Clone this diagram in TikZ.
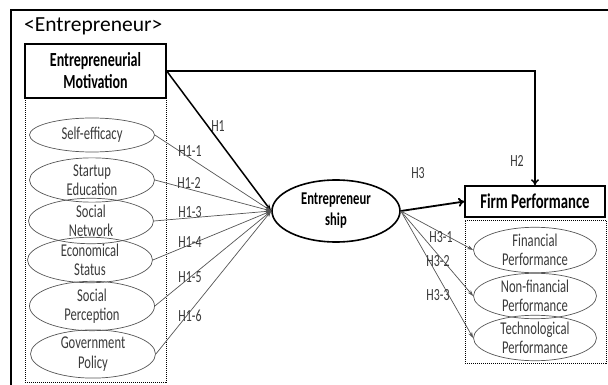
\documentclass[tikz,border=0pt]{standalone}
\usepackage{fontspec}
\setmainfont{Carlito}[FakeStretch=0.7]
\newfontfamily\plainf{Carlito}
\usetikzlibrary{arrows.meta,shapes.geometric}
\definecolor{ink}{HTML}{3A3A3A}
\definecolor{edge}{HTML}{555555}
\begin{document}
\begin{tikzpicture}[x=1pt,y=-1pt,
  sub/.style={ellipse, draw=edge, line width=0.7pt, minimum width=125pt, minimum height=34pt,
    inner sep=0pt, align=center, text=ink, font=\fontsize{18}{19.5}\selectfont},
  mainbox/.style={draw=black, line width=1.4pt, inner sep=0pt, align=center,
    font=\fontsize{20}{22}\bfseries\selectfont},
  dotbox/.style={draw=black, line width=1pt, densely dotted},
  hlab/.style={text=ink, font=\fontsize{17}{17}\selectfont, inner sep=0pt},
  thin/.style={draw=edge, line width=0.7pt, -{Stealth[length=6pt,width=4pt]}},
  small/.style={draw=edge, line width=0.7pt, -{Stealth[length=6pt,width=4pt]}}
]
\useasboundingbox (0,0) rectangle (608,385);
% outer frame (open to right and bottom)
\coordinate (fbl) at (11,385);
\coordinate (ftl) at (11,10);
\coordinate (ftr) at (608,10);
\draw[line width=1.1pt] (fbl) -- (ftl) -- (ftr);
\node[anchor=west, inner sep=0pt, font=\plainf\fontsize{21.5}{21.5}\selectfont] (title) at (24,26) {<Entrepreneur>};

% Entrepreneurial Motivation
\node[mainbox, minimum width=141pt, minimum height=54pt] (EM) at (95.5,71) {Entrepreneurial\\Motivation};
\node[dotbox, minimum width=141pt, minimum height=284pt, inner sep=0pt] (EMd) at (95.5,240) {};

\node[sub] (s1) at (92,135) {Self-efficacy};
\node[sub] (s2) at (92,180) {Startup\\Education};
\node[sub] (s3) at (91,221) {Social\\Network};
\node[sub] (s4) at (90,260) {Economical\\Status};
\node[sub] (s5) at (92,306) {Social\\Perception};
\node[sub] (s6) at (93,354) {Government\\Policy};

% Entrepreneurship
\node[ellipse, draw=black, line width=1.6pt, minimum width=128pt, minimum height=62pt, inner sep=0pt,
  align=center, font=\fontsize{18}{21}\bfseries\selectfont] (E) at (336,211) {Entrepreneur\\ship};

% Firm Performance
\node[mainbox, minimum width=140pt, minimum height=31pt, font=\fontsize{21}{21}\bfseries\selectfont] (FP) at (535,201.5) {Firm Performance};
\node[dotbox, minimum width=141pt, minimum height=143pt, inner sep=0pt] (FPd) at (535.5,291.5) {};

\node[sub, minimum width=123pt, minimum height=34pt] (f1) at (535,250) {Financial\\Performance};
\node[sub, minimum width=123pt, minimum height=33pt] (f2) at (535,296) {Non-financial\\Performance};
\node[sub, minimum width=123pt, minimum height=30pt] (f3) at (535,338) {Technological\\Performance};

% H1 main
\draw[line width=1.5pt, -{Stealth[length=7pt,width=5pt]}] (EM.east) -- (E.west);
% H2
\coordinate (bend) at (535,71);
\draw[line width=1.5pt, -{To[length=6pt,width=8pt]}] (EM.east) -- (bend) -- (FP.north);
% H1-x
\foreach \s in {s1,s2,s3,s4,s5,s6}{
  \draw[thin] (\s.east) -- (E.west);
}
% H3
\draw[line width=1.8pt, -{To[length=6pt,width=9pt]}] (E.east) -- (FP.west);
\foreach \f in {f1,f2,f3}{
  \draw[small] (E.east) -- (\f.west);
}

% labels
\node[hlab] (lH1) at (218,126) {H1};
\node[hlab] (lH11) at (190,151) {H1-1};
\node[hlab] (lH12) at (189,183) {H1-2};
\node[hlab] (lH13) at (190,212) {H1-3};
\node[hlab] (lH14) at (190,242) {H1-4};
\node[hlab] (lH15) at (190,277) {H1-5};
\node[hlab] (lH16) at (190,316) {H1-6};
\node[hlab] (lH2) at (517,161) {H2};
\node[hlab] (lH3) at (418,173) {H3};
\node[hlab] (lH31) at (441,237) {H3-1};
\node[hlab] (lH32) at (438,261) {H3-2};
\node[hlab] (lH33) at (438,295) {H3-3};
\end{tikzpicture}
\end{document}
